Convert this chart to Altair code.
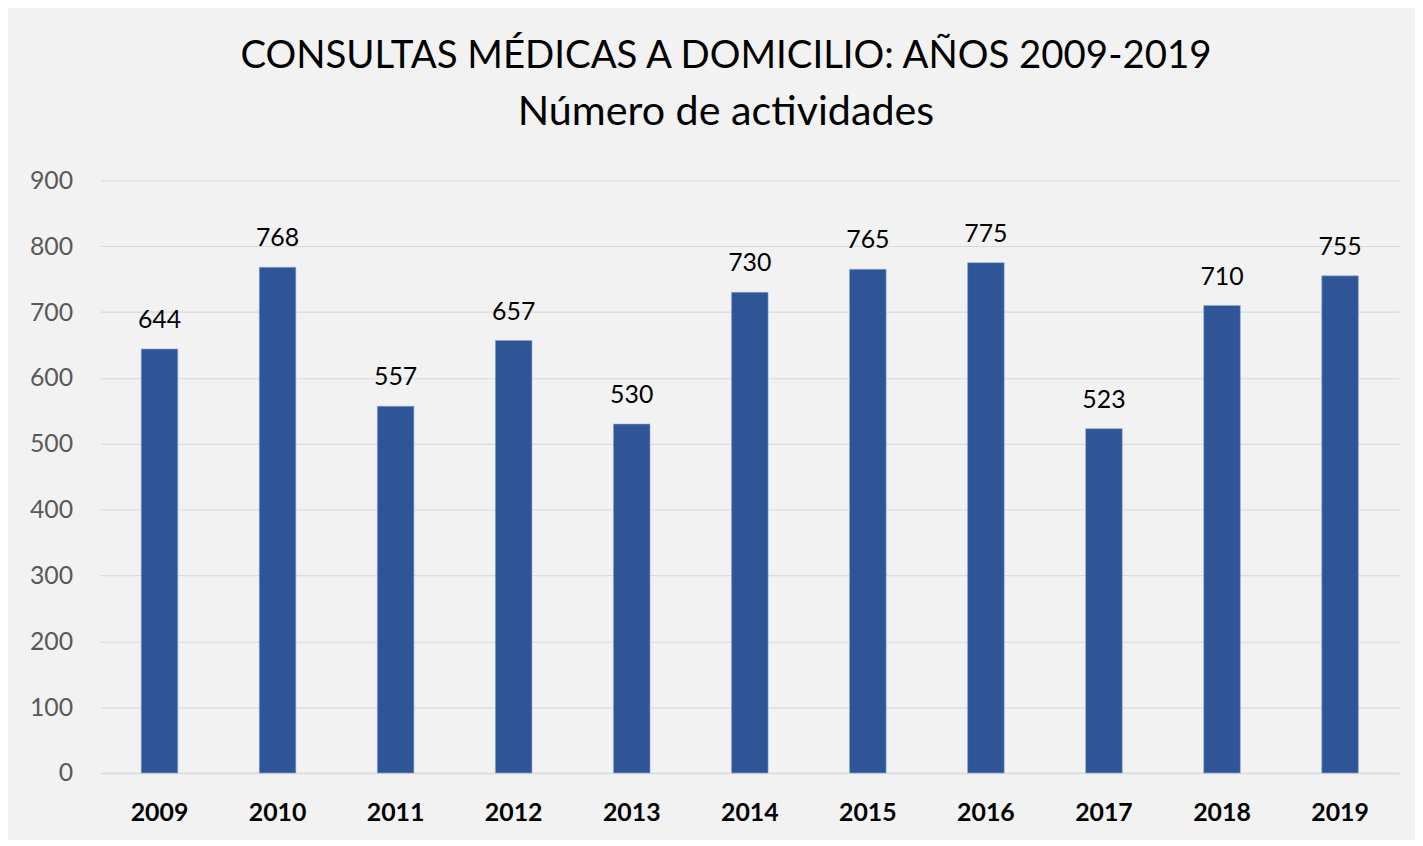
import altair as alt
import pandas as pd

years = ["2009", "2010", "2011", "2012", "2013", "2014", "2015", "2016", "2017", "2018", "2019"]
values = [644, 768, 557, 657, 530, 730, 765, 775, 523, 710, 755]
y_ticks = [0, 100, 200, 300, 400, 500, 600, 700, 800, 900]

df = pd.DataFrame({"year": years, "value": values})

base = alt.Chart(df)

bars = base.mark_bar(color="#2f5597", stroke="#8faadc", strokeWidth=0.6).encode(
    x=alt.X("year:N", sort=years, title=None,
            scale=alt.Scale(paddingInner=0.69, paddingOuter=0.345),
            axis=alt.Axis(labelAngle=0, labelFont="Lato", labelFontSize=25, labelFontWeight="bold",
                          labelColor="#000000", labelPadding=28, ticks=False,
                          domainColor="#d9d9d9", domainWidth=1.5, grid=False)),
    y=alt.Y("value:Q", title=None,
            scale=alt.Scale(domain=[0, 900], nice=False),
            axis=alt.Axis(values=y_ticks, labelFont="Lato", labelFontSize=25, labelColor="#595959",
                          labelPadding=28, ticks=False, domain=False,
                          gridColor="#d9d9d9", gridWidth=1.2)),
)

labels = base.mark_text(font="Lato", fontSize=25, color="#000000", baseline="bottom", dy=-16).encode(
    x=alt.X("year:N", sort=years),
    y=alt.Y("value:Q"),
    text=alt.Text("value:Q"),
)

chart = (bars + labels).properties(
    width=1306,
    height=596,
    title=alt.Title(
        text="CONSULTAS MÉDICAS A DOMICILIO: AÑOS 2009-2019",
        subtitle="Número de actividades",
        font="Lato", fontSize=38.6, fontWeight="normal", color="#000000",
        subtitleFont="Lato", subtitleFontSize=41.5, subtitleColor="#000000",
        subtitlePadding=16, anchor="middle", offset=34, dx=-24,
    ),
    autosize=alt.AutoSizeParams(type="none"),
    padding={"left": 93, "top": 171, "right": 16, "bottom": 65},
    background="#f2f2f2",
).configure_view(stroke=None)

chart.save("out.html", embed_options={"renderer": "svg", "actions": False})
